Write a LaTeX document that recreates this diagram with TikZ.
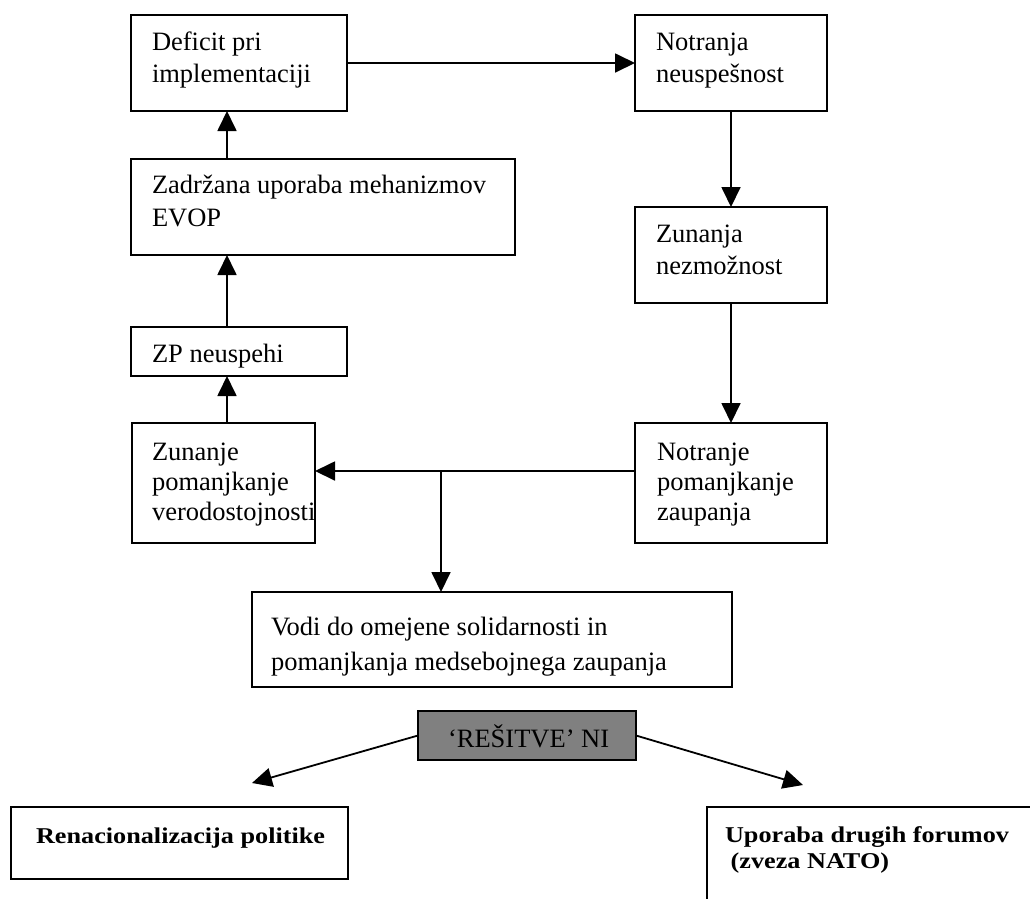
\documentclass[tikz,border=0pt]{standalone}
\usepackage{fontspec}
\setmainfont{Liberation Serif}
\newfontfamily\wideserif[FakeStretch=1.16]{Liberation Serif}
\usetikzlibrary{arrows.meta}
\newcommand{\bxt}[6]{\parbox[c][#2][t]{#1}{\fontsize{26.5pt}{#5}\selectfont\raggedright\setlength{\leftskip}{#4}\rule{0pt}{#3}#6}}
\tikzset{
  box/.style={draw, line width=1.8pt, inner sep=0pt, outer sep=0pt, anchor=north west, fill=white},
  grey box/.style={box, fill=gray},
  arr/.style={line width=1.8pt, -{Triangle[length=20pt,width=19pt]}},
}
\begin{document}
\begin{tikzpicture}[x=1pt,y=-1pt]
\useasboundingbox (0,0) rectangle (1030,898);
% left column
\node[box] (def) at (131,15) {\bxt{216pt}{96pt}{35pt}{21pt}{32pt}{Deficit pri\\implementaciji}};
\node[box] (zad) at (131,159) {\bxt{384pt}{96pt}{34pt}{21pt}{33pt}{Zadržana uporaba mehanizmov\\EVOP}};
\node[box] (zp) at (131,327) {\bxt{216pt}{49pt}{35pt}{21pt}{32pt}{ZP neuspehi}};
\node[box] (zun) at (132,423) {\bxt{183pt}{120pt}{37pt}{20pt}{30pt}{Zunanje\\pomanjkanje\\verodostojnosti}};
% right column
\node[box] (nn) at (635,15) {\bxt{192pt}{96pt}{35pt}{21pt}{32pt}{Notranja\\neuspešnost}};
\node[box] (zn) at (635,207) {\bxt{192pt}{96pt}{35pt}{21pt}{32pt}{Zunanja\\nezmožnost}};
\node[box] (nz) at (635,423) {\bxt{192pt}{120pt}{37pt}{22pt}{30pt}{Notranje\\pomanjkanje\\zaupanja}};
% middle
\node[box] (vodi) at (252,592) {\bxt{480pt}{95pt}{43pt}{19pt}{35pt}{Vodi do omejene solidarnosti in\\pomanjkanja medsebojnega zaupanja}};
\node[grey box] (res) at (418,711) {\bxt{218pt}{49pt}{36pt}{30pt}{32pt}{‘REŠITVE’ NI}};
% bottom
\node[box] (ren) at (11,807) {\bxt{337pt}{72pt}{36pt}{25pt}{26pt}{\wideserif\bfseries\fontsize{22.6pt}{26pt}\selectfont Renacionalizacija politike}};
\node[box] (upo) at (707,807) {\bxt{340pt}{110pt}{35pt}{18pt}{26pt}{\wideserif\bfseries\fontsize{22.6pt}{26pt}\selectfont Uporaba drugih forumov\\\hspace*{0.25em}(zveza NATO)}};
% connectors
\draw[arr] (def) -- (nn);
\draw[arr] (nn) -- (zn);
\draw[arr] (zn) -- (nz);
\coordinate (j) at (441,471);
\draw[arr] (nz.west |- j) -- (zun.east |- j);
\draw[arr] (j) -- (j |- vodi.north);
\coordinate (ax) at (227,0);
\draw[arr] (ax |- zun.north) -- (ax |- zp.south);
\draw[arr] (ax |- zp.north) -- (ax |- zad.south);
\draw[arr] (ax |- zad.north) -- (ax |- def.south);
\coordinate (tl) at (252,783);
\coordinate (tr) at (803,785);
\draw[arr] (res.west) -- (tl);
\draw[arr] (res.east) -- (tr);
\end{tikzpicture}
\end{document}
